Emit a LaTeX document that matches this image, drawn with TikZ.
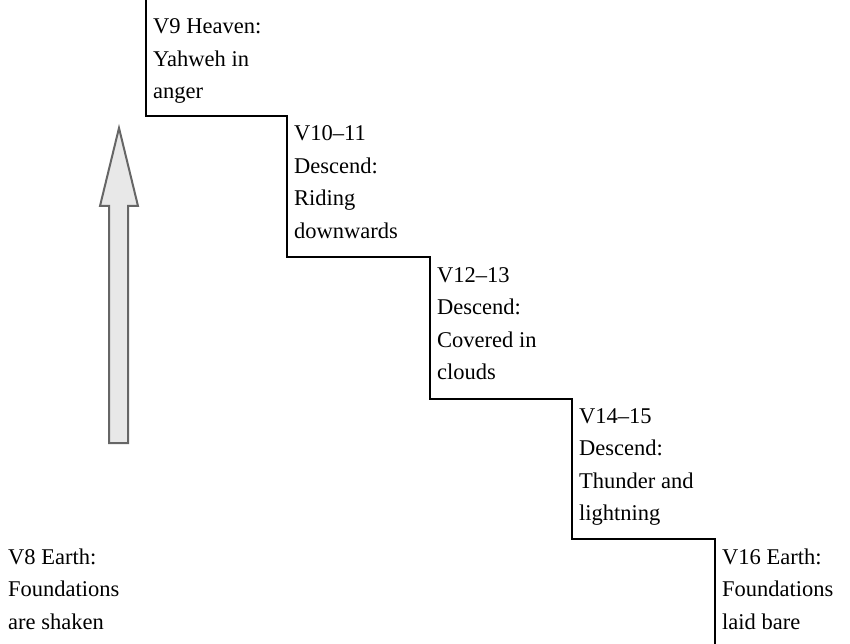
\documentclass[tikz,border=0pt]{standalone}
\usepackage{fontspec}
\setmainfont{Liberation Serif}
\begin{document}
\begin{tikzpicture}[x=1pt,y=-1pt,
  lbl/.style={anchor=base west, align=left, inner sep=0pt, font=\fontsize{22.5}{32.5}\selectfont},
  stair/.style={draw=black, line width=2pt},
  bigarrow/.style={draw=black!60, fill=black!9, line width=2pt, line join=miter}]
\useasboundingbox (0,0) rectangle (850,644);
% staircase corners
\coordinate (s0) at (146,0);
\coordinate (s1) at (146,116);
\coordinate (s2) at (287,116);
\coordinate (s3) at (287,257);
\coordinate (s4) at (430,257);
\coordinate (s5) at (430,399);
\coordinate (s6) at (572,399);
\coordinate (s7) at (572,539);
\coordinate (s8) at (715,539);
\coordinate (s9) at (715,644);
\draw[stair] (s0) -- (s1) -- (s2) -- (s3) -- (s4) -- (s5) -- (s6) -- (s7) -- (s8) -- (s9);
% block arrow
\draw[bigarrow] (109,443) -- (109,206) -- (100,206) -- (119,128) -- (138,206) -- (128,206) -- (128,443) -- cycle;
% labels (anchor at baseline of last line)
\node[lbl] (v9) at (153,99) {V9 Heaven:\\Yahweh in\\anger};
\node[lbl] (v10) at (294,238.5) {V10--11\\Descend:\\Riding\\downwards};
\node[lbl] (v12) at (437,379.5) {V12--13\\Descend:\\Covered in\\clouds};
\node[lbl] (v14) at (579,520.5) {V14--15\\Descend:\\Thunder and\\lightning};
\node[lbl] (v16) at (722,629) {V16 Earth:\\Foundations\\laid bare};
\node[lbl] (v8) at (8,629) {V8 Earth:\\Foundations\\are shaken};
\end{tikzpicture}
\end{document}
